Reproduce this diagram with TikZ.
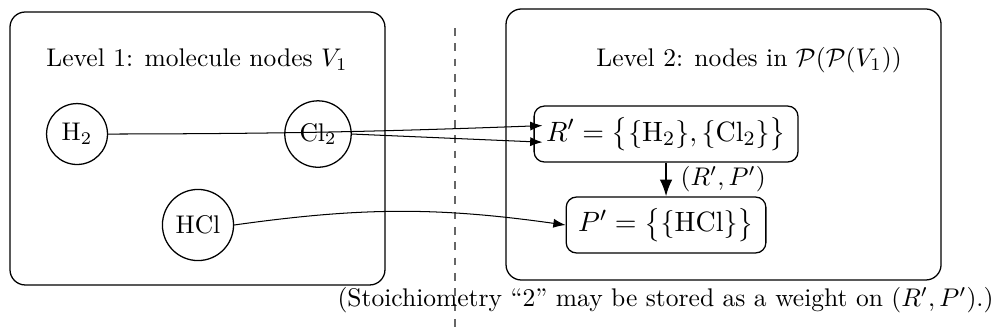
\documentclass[tikz,border=0pt]{standalone}
\usepackage{amsmath}
\usepackage{tikz}
\usetikzlibrary{arrows.meta, positioning, calc}
\tikzset{
    levelbox/.style={
        rectangle, rounded corners=6pt, draw, line width=0.5pt
    },
    molnode/.style={
        circle, draw, line width=0.5pt
    },
    setnode/.style={
        rectangle, rounded corners=4pt, draw, inner xsep=4.7pt,
        minimum height=0.77cm, font=\fontsize{11.4}{13}\selectfont,
        line width=0.5pt
    },
    levellab/.style={
        font=\normalsize
    },
    maparrow/.style={
        -{Latex}, line width=0.4pt
    },
    hyperarrow/.style={
        -{Latex}, line width=0.8pt
    },
}
\begin{document}
\begin{tikzpicture}
    \useasboundingbox (0,-4.587) rectangle (13.705,0);

    % Level boxes
    \node[levelbox, minimum width=5.165cm, minimum height=3.76cm] (lvlone) at (2.72,-2.045) {};
    \node[levelbox, minimum width=5.992cm, minimum height=3.733cm] (lvltwo) at (9.966,-1.99) {};
    \node[levellab] (labone) at (2.713,-0.826) {Level 1: molecule nodes $V_1$};
    \node[levellab] (labtwo) at (10.317,-0.826) {Level 2: nodes in $\mathcal{P}(\mathcal{P}(V_1))$};

    % Separator
    \coordinate (septop) at (6.267,-0.386);
    \coordinate (sepbot) at (6.267,-4.587);
    \draw[dashed, gray!80!black, line width=0.6pt] (septop) -- (sepbot);

    % Level 1: molecules
    \node[molnode] (htwo) at (1.061,-1.846) {H$_2$};
    \node[molnode] (cltwo) at (4.380,-1.846) {Cl$_2$};
    \node[molnode] (hcl) at (2.727,-3.099) {HCl};

    % Level 2: reactant / product sets
    \node[setnode] (rset) at (9.174,-1.846) {$R' = \big\{\{\mathrm{H}_2\}, \{\mathrm{Cl}_2\}\big\}$};
    \node[setnode] (pset) at (9.174,-3.099) {$P' = \big\{\{\mathrm{HCl}\}\big\}$};

    % Hyperedge
    \draw[hyperarrow] (rset) -- node[right=2pt] {$(R',P')$} (pset);

    % Molecule to set membership
    \draw[maparrow] (htwo.east) to[bend right=1] ([xshift=3.5pt, yshift=3.3pt]rset.west);
    \draw[maparrow] (cltwo.east) -- ([xshift=3.5pt, yshift=-3.2pt]rset.west);
    \draw[maparrow] (hcl.east) to[bend left=8] (pset.west);

    % Note
    \node (note) at (9.167,-4.132) {(Stoichiometry ``2'' may be stored as a weight on $(R',P')$.)};

\end{tikzpicture}
\end{document}
